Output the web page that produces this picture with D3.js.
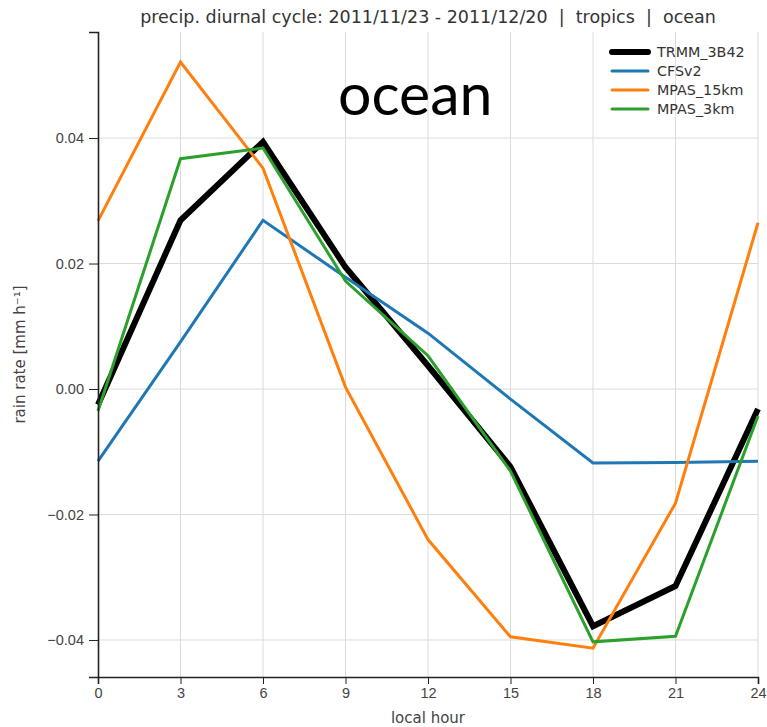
<!DOCTYPE html>
<html>
<head>
<meta charset="utf-8">
<script src="https://cdn.jsdelivr.net/npm/d3@7"></script>
<style>
  body { margin: 0; background: #fff; }
  svg { display: block; font-family: "DejaVu Sans", sans-serif; }
  .axis text { fill: #444; font-size: 14.5px; }
  .grid line { stroke: #dcdcdc; stroke-width: 1; }
</style>
</head>
<body>
<div id="chart"></div>
<script>
const hours = [0, 3, 6, 9, 12, 15, 18, 21, 24];
const trmm = [-0.0025, 0.0269, 0.0394, 0.0194, 0.0037, -0.0124, -0.0378, -0.0314, -0.0032];
const cfsv2 = [-0.0115, 0.0075, 0.0269, 0.0178, 0.0089, -0.0016, -0.0118, -0.0117, -0.0115];
const mpas15 = [0.0268, 0.0521, 0.0352, 0.0003, -0.024, -0.0395, -0.0413, -0.0182, 0.0265];
const mpas3 = [-0.0035, 0.0367, 0.0384, 0.0172, 0.0053, -0.0131, -0.0403, -0.0394, -0.0043];
const xTicks = [0, 3, 6, 9, 12, 15, 18, 21, 24];
const yTicks = [-0.04, -0.02, 0, 0.02, 0.04];

const series = [
  { name: "TRMM_3B42", values: trmm, color: "#000000", width: 6 },
  { name: "CFSv2", values: cfsv2, color: "#1f77b4", width: 3 },
  { name: "MPAS_15km", values: mpas15, color: "#ff7f0e", width: 3 },
  { name: "MPAS_3km", values: mpas3, color: "#2ca02c", width: 3 },
];

const width = 767;
const height = 727;
const margin = { top: 32, right: 9, bottom: 50, left: 98 };

const x = d3.scaleLinear().domain([0, 24])
  .range([margin.left, width - margin.right]);
const y = d3.scaleLinear().domain([-0.0459, 0.0569])
  .range([height - margin.bottom, margin.top]);

const svg = d3.select("#chart").append("svg")
  .attr("width", width).attr("height", height);

// grid
const gGrid = svg.append("g").attr("class", "grid");
gGrid.selectAll(".vx").data(xTicks.slice(1)).join("line")
  .attr("x1", d => x(d)).attr("x2", d => x(d))
  .attr("y1", margin.top).attr("y2", height - margin.bottom);
gGrid.selectAll(".hy").data(yTicks).join("line")
  .attr("x1", margin.left).attr("x2", width - margin.right)
  .attr("y1", d => y(d)).attr("y2", d => y(d));

// lines
const line = d3.line().x((d, i) => x(hours[i])).y(d => y(d));
svg.append("g").selectAll("path").data(series).join("path")
  .attr("fill", "none")
  .attr("stroke", d => d.color)
  .attr("stroke-width", d => d.width)
  .attr("stroke-linejoin", "miter")
  .attr("d", d => line(d.values));

// axes
svg.append("g").attr("class", "axis")
  .attr("transform", `translate(0,${height - margin.bottom})`)
  .call(d3.axisBottom(x).tickValues(xTicks).tickFormat(d3.format("d"))
    .tickSizeOuter(0).tickSize(7).tickPadding(4))
  .call(g => g.select(".domain").attr("stroke", "#222").attr("stroke-width", 1.6))
  .call(g => g.selectAll(".tick line").attr("stroke", "#222"));

svg.append("g").attr("class", "axis")
  .attr("transform", `translate(${margin.left},0)`)
  .call(d3.axisLeft(y).tickValues(yTicks).tickFormat(d3.format(".2f"))
    .tickSizeOuter(0).tickSize(9).tickPadding(5))
  .call(g => g.select(".domain").attr("stroke", "#222").attr("stroke-width", 1.6))
  .call(g => g.selectAll(".tick line").attr("stroke", "#222"));

// axis titles
svg.append("text")
  .attr("x", (margin.left + width - margin.right) / 2)
  .attr("y", 723)
  .attr("text-anchor", "middle")
  .attr("fill", "#444").style("font-size", "15px")
  .text("local hour");

svg.append("text")
  .attr("transform", `translate(25,${(margin.top + height - margin.bottom) / 2})rotate(-90)`)
  .attr("text-anchor", "middle")
  .attr("fill", "#444").style("font-size", "15px")
  .text("rain rate [mm h\u207B\u00B9]");

// title
svg.append("text")
  .attr("x", (margin.left + width - margin.right) / 2)
  .attr("y", 23)
  .attr("text-anchor", "middle")
  .attr("fill", "#333").style("font-size", "17.5px")
  .style("white-space", "pre")
  .text("precip. diurnal cycle: 2011/11/23 - 2011/12/20  |  tropics  |  ocean");

// big label
svg.append("text")
  .attr("x", 338)
  .attr("y", 115)
  .attr("fill", "#000")
  .style("font-family", "Lato, 'Open Sans', sans-serif")
  .style("font-size", "59px")
  .text("ocean");

// legend
const legend = svg.append("g").attr("transform", "translate(612,52)");
const item = legend.selectAll("g").data(series).join("g")
  .attr("transform", (d, i) => `translate(0,${i * 19})`);
item.append("line")
  .attr("x1", 0).attr("x2", 36)
  .attr("stroke", d => d.color)
  .attr("stroke-width", d => d.width)
  .attr("stroke-linecap", "round");
item.append("text")
  .attr("x", 45).attr("dy", "0.35em")
  .attr("fill", "#333").style("font-size", "14.3px")
  .text(d => d.name);
</script>
</body>
</html>
